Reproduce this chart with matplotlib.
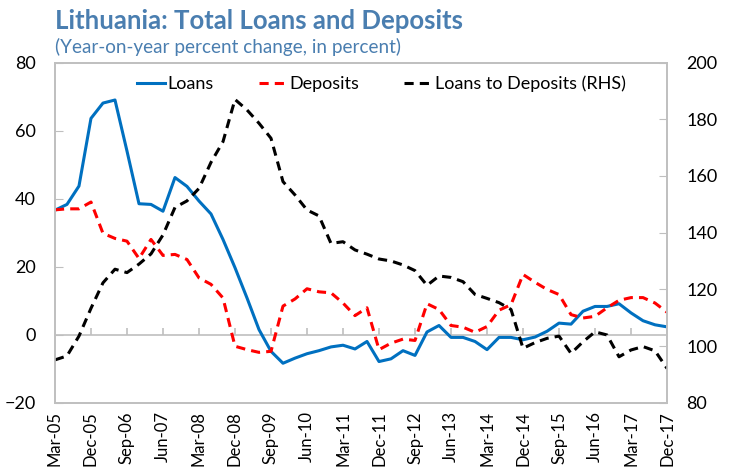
import numpy as np
import matplotlib.pyplot as plt

plt.rcParams['font.family'] = ['Lato', 'DejaVu Sans']

# quarterly, Mar-05 .. Dec-17
quarters = [f"{m}-{y:02d}" for y in range(5, 18) for m in ["Mar", "Jun", "Sep", "Dec"]]

loans = [36.6, 38.3, 43.7, 63.6, 68.1, 69.0, 54.0, 38.5, 38.3, 36.3,
         46.2, 43.6, 39.3, 35.5, 28.0, 19.7, 10.8, 1.5, -4.9, -8.4,
         -6.9, -5.6, -4.7, -3.6, -3.1, -4.2, -2.0, -7.9, -7.1, -4.7,
         -6.1, 0.8, 2.7, -0.8, -0.8, -2.0, -4.4, -0.8, -0.8, -1.5,
         -0.7, 1.0, 3.4, 3.1, 6.9, 8.3, 8.3, 9.1, 6.4, 4.1,
         2.9, 2.3]

deposits = [36.7, 37.0, 37.0, 39.0, 29.8, 28.3, 27.5, 22.4, 28.0, 23.3,
            23.6, 22.1, 16.7, 14.8, 10.8, -3.4, -4.4, -5.2, -4.9, 8.4,
            10.5, 13.5, 12.6, 12.3, 9.3, 5.6, 7.9, -4.4, -2.5, -1.3,
            -1.7, 9.1, 7.4, 2.7, 2.2, 0.7, 2.4, 7.2, 8.8, 17.7,
            15.4, 13.3, 11.8, 5.9, 4.9, 5.4, 7.9, 10.1, 10.9, 10.9,
            9.3, 6.6]

ratio = [95.1, 96.5, 103.5, 113.3, 122.3, 127.1, 125.9, 128.9, 132.5, 139.2,
         148.9, 151.2, 155.6, 164.8, 172.1, 187.0, 183.3, 178.6, 173.3, 158.0,
         153.3, 148.0, 145.9, 136.2, 136.8, 133.9, 132.4, 130.7, 130.0, 128.6,
         126.6, 121.4, 124.7, 124.2, 122.7, 118.2, 116.8, 115.3, 112.9, 99.2,
         101.2, 102.7, 103.5, 97.4, 101.5, 105.0, 103.9, 96.2, 98.6, 99.8,
         98.3, 92.1]

x = np.arange(len(quarters))
blue = "#0070C0"
title_col = "#4A7EB0"
grey = "#BFBFBF"

fig = plt.figure(figsize=(7.33, 4.76), dpi=100)
ax = fig.add_axes([0.075, 0.154, 0.835, 0.7145])
ax2 = ax.twinx()

l1, = ax.plot(x, loans, color=blue, lw=2.2, label="Loans")
l2, = ax.plot(x, deposits, color="#FF0000", lw=2.2, dashes=(3, 2), label="Deposits")
l3, = ax2.plot(x, ratio, color="black", lw=2.2, dashes=(3, 2), label="Loans to Deposits (RHS)")

ax.set_xlim(0, len(x) - 1)
ax.set_ylim(-20, 80)
ax2.set_ylim(80, 200)
ax.set_yticks(range(-20, 81, 20))
ax2.set_yticks(range(80, 201, 20))

# zero line with small upward ticks every three quarters
ax.axhline(0, color=grey, lw=1.2, zorder=1)
ax.vlines(x[3::3], 0, 2.1, color=grey, lw=1.2, zorder=1)

ax.set_xticks(x[::3])
ax.set_xticklabels(quarters[::3], rotation=90, fontsize=12)
ax.tick_params(axis="x", length=0, pad=6)
ax.tick_params(axis="y", direction="in", length=6, color=grey, labelsize=13, pad=14)
ax2.tick_params(axis="y", direction="in", length=6, color=grey, labelsize=13, pad=14)

for a in (ax, ax2):
    for s in a.spines.values():
        s.set_color(grey)
        s.set_linewidth(1.2)

ax.legend(handles=[l1, l2, l3], loc="upper center", ncol=3, frameon=False,
          fontsize=13, handlelength=1.6, handletextpad=0.1, columnspacing=2.5,
          bbox_to_anchor=(0.533, 1.01))

fig.text(0.075, 0.94, "Lithuania: Total Loans and Deposits", fontsize=18.5,
         fontweight="bold", color=title_col)
fig.text(0.075, 0.888, "(Year-on-year percent change, in percent)", fontsize=13.6,
         color=title_col)

fig.savefig("out.png", dpi=100)
